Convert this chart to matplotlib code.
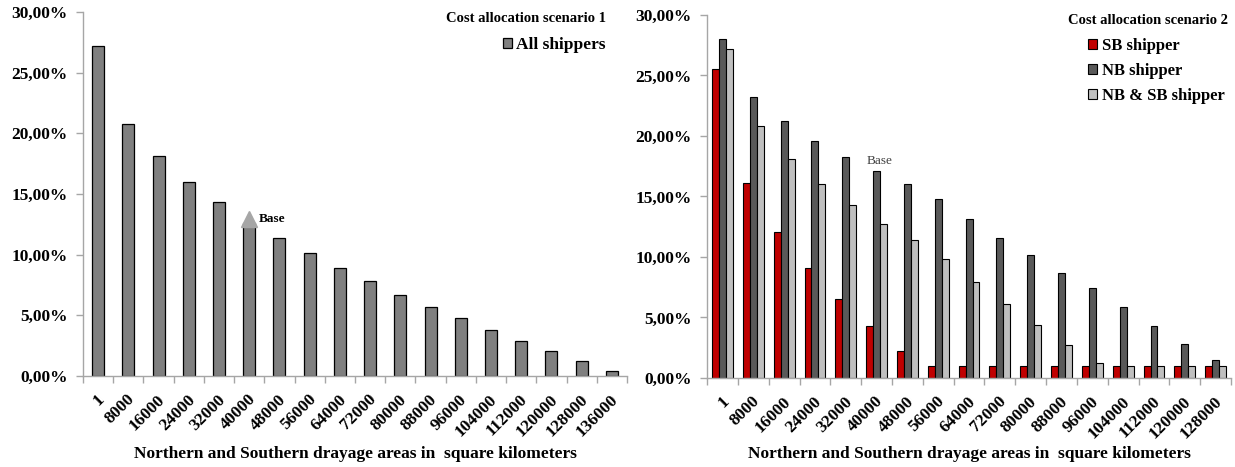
import matplotlib
matplotlib.use("Agg")
import matplotlib.pyplot as plt
import numpy as np
from matplotlib.ticker import FuncFormatter, FixedLocator
from matplotlib.transforms import ScaledTranslation

plt.rcParams['font.family'] = ['Liberation Serif', 'DejaVu Serif']

# ---- data ----
areas_left = ["1", "8000", "16000", "24000", "32000", "40000", "48000", "56000", "64000",
              "72000", "80000", "88000", "96000", "104000", "112000", "120000", "128000", "136000"]
all_shippers = [27.2, 20.8, 18.1, 16.0, 14.3, 12.6, 11.4, 10.1, 8.9,
                7.8, 6.7, 5.7, 4.75, 3.8, 2.9, 2.05, 1.25, 0.45]
base_marker_value = 12.9

areas_right = ["1", "8000", "16000", "24000", "32000", "40000", "48000", "56000", "64000",
               "72000", "80000", "88000", "96000", "104000", "112000", "120000", "128000"]
sb_shipper = [25.5, 16.1, 12.1, 9.1, 6.5, 4.3, 2.25, 1.0, 1.0, 1.0, 1.0, 1.0, 1.0, 1.0, 1.0, 1.0, 1.0]
nb_shipper = [28.05, 23.2, 21.2, 19.6, 18.25, 17.1, 16.05, 14.8, 13.15, 11.6, 10.15, 8.7, 7.4, 5.85, 4.3, 2.85, 1.45]
nbsb_shipper = [27.2, 20.8, 18.1, 16.05, 14.3, 12.75, 11.4, 9.8, 7.9, 6.1, 4.35, 2.7, 1.2, 1.0, 1.0, 1.0, 1.0]

yticks = [0, 5, 10, 15, 20, 25, 30]
xlabel = "Northern and Southern drayage areas in  square kilometers"

AX_COL = "#a6a6a6"

fig = plt.figure(figsize=(12.35, 4.67), dpi=100)

def pct(v, pos):
    return f"{v:.2f}%".replace(".", ",")

def style_axes(ax, n, labels):
    for s in ["top", "right"]:
        ax.spines[s].set_visible(False)
    for s in ["left", "bottom"]:
        ax.spines[s].set_color(AX_COL)
        ax.spines[s].set_linewidth(1.0)
    ax.set_ylim(0, 30)
    ax.set_xlim(-0.5, n - 0.5)
    ax.set_yticks(yticks)
    ax.yaxis.set_major_formatter(FuncFormatter(pct))
    ax.tick_params(axis='y', direction='out', length=5, color=AX_COL, width=1, pad=6,
                   labelsize=12.5)
    for lbl in ax.get_yticklabels():
        lbl.set_fontweight('bold')
    ax.xaxis.set_minor_locator(FixedLocator(np.arange(-0.5, n, 1.0)))
    ax.tick_params(axis='x', which='minor', direction='out', length=5, color=AX_COL, width=1)
    ax.tick_params(axis='x', which='major', length=0, pad=13, labelsize=12.5)
    ax.set_xticks(np.arange(n))
    ax.set_xticklabels(labels, rotation=45, ha='right', rotation_mode='anchor',
                       fontweight='bold', va='center')
    off = ScaledTranslation(4 / 100, -3 / 100, fig.dpi_scale_trans)
    for lbl in ax.get_xticklabels():
        lbl.set_transform(lbl.get_transform() + off)

# ---- left chart ----
axL = fig.add_axes([0.0672, 0.1949, 0.4405, 0.7794])
xL = np.arange(len(areas_left))
axL.bar(xL, all_shippers, width=0.4, color="#808080", edgecolor="black", linewidth=0.9,
        label="All shippers", zorder=2)
axL.plot([5], [base_marker_value], marker='^', markersize=11, color="#a6a6a6",
         linestyle='none', zorder=3)
axL.text(5.3, base_marker_value, "Base", fontsize=9.5, fontweight='bold', ha='left', va='center',
         zorder=4)
style_axes(axL, len(areas_left), areas_left)
legL = axL.legend(loc='upper right', bbox_to_anchor=(606 / 1235, 1 - 37 / 467),
                  bbox_transform=fig.transFigure, frameon=False,
                  prop={'weight': 'bold', 'size': 12.5}, handlelength=0.55, handleheight=0.55,
                  handletextpad=0.25, borderpad=0, borderaxespad=0)
fig.text(606 / 1235, 1 - 18 / 467, "Cost allocation scenario 1", ha='right', va='center',
         fontsize=10.5, fontweight='bold')
fig.text(355 / 1235, 1 - 454 / 467, xlabel, ha='center', va='center', fontsize=12.5,
         fontweight='bold')

# ---- right chart ----
axR = fig.add_axes([0.5725, 0.1906, 0.4243, 0.7773])
xR = np.arange(len(areas_right))
w = 0.225
axR.bar(xR - w, sb_shipper, width=w, color="#c00000", edgecolor="black", linewidth=0.8,
        label="SB shipper", zorder=2)
axR.bar(xR, nb_shipper, width=w, color="#595959", edgecolor="black", linewidth=0.8,
        label="NB shipper", zorder=2)
axR.bar(xR + w, nbsb_shipper, width=w, color="#bfbfbf", edgecolor="black", linewidth=0.8,
        label="NB & SB shipper", zorder=2)
axR.text(5.1, 17.9, "Base", fontsize=9.5, ha='center', va='center', color="#404040")
style_axes(axR, len(areas_right), areas_right)
legR = axR.legend(loc='upper right', bbox_to_anchor=(1225 / 1235, 1 - 38 / 467),
                  bbox_transform=fig.transFigure, frameon=False,
                  prop={'weight': 'bold', 'size': 12}, handlelength=0.55, handleheight=0.55,
                  handletextpad=0.3, borderpad=0, borderaxespad=0, labelspacing=0.55)
fig.text(1228 / 1235, 1 - 20 / 467, "Cost allocation scenario 2", ha='right', va='center',
         fontsize=10.5, fontweight='bold')
fig.text(969 / 1235, 1 - 454 / 467, xlabel, ha='center', va='center', fontsize=12.5,
         fontweight='bold')

fig.savefig("out.png", dpi=100)
